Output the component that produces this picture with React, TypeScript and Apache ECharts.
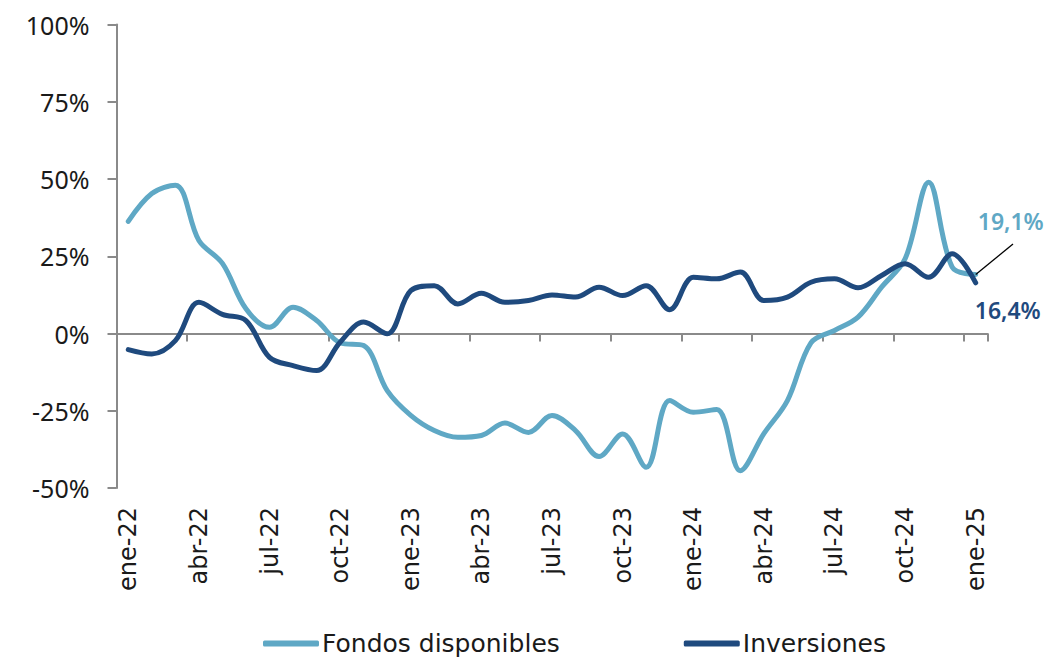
import React, { useEffect, useRef } from "react";
import * as echarts from "echarts";

const months = [
  "ene-22", "feb-22", "mar-22", "abr-22", "may-22", "jun-22", "jul-22", "ago-22", "sep-22", "oct-22", "nov-22", "dic-22",
  "ene-23", "feb-23", "mar-23", "abr-23", "may-23", "jun-23", "jul-23", "ago-23", "sep-23", "oct-23", "nov-23", "dic-23",
  "ene-24", "feb-24", "mar-24", "abr-24", "may-24", "jun-24", "jul-24", "ago-24", "sep-24", "oct-24", "nov-24", "dic-24",
  "ene-25",
];

const fondosDisponibles = [
  36.3, 45.3, 48.0, 30.1, 22.7, 8.0, 2.0, 8.5, 4.2, -3.0, -3.9, -18.5,
  -26.5, -31.4, -33.6, -33.0, -29.0, -32.0, -26.5, -31.4, -39.8, -32.5, -43.3, -21.7,
  -25.5, -24.6, -44.4, -32.4, -21.7, -3.0, 1.0, 5.3, 15.0, 24.2, 49.0, 21.5,
  19.1,
];

const inversiones = [
  -5.2, -6.6, -2.3, 10.1, 6.2, 4.2, -7.7, -10.4, -12.0, -2.8, 3.7, -0.1,
  13.9, 15.5, 9.6, 13.0, 10.1, 10.7, 12.5, 11.8, 15.0, 12.3, 15.5, 7.7,
  18.2, 17.7, 19.9, 10.7, 11.8, 16.6, 17.7, 14.8, 18.8, 22.6, 18.2, 25.8,
  16.4,
];

const yTicks = [-50, -25, 0, 25, 50, 75, 100];

const LIGHT = "#5fa8c5";
const DARK = "#1f4a7e";
const AXIS = "#8a8a8a";

const fmt = (v: number) => v.toFixed(1).replace(".", ",") + "%";

export default function App() {
  const ref = useRef<HTMLDivElement>(null);

  useEffect(() => {
    if (!ref.current) return;
    const chart = echarts.init(ref.current, null, { renderer: "svg" });
    const last = months.length - 1;

    const labelFont = {
      fontFamily: "Noto Sans",
      fontWeight: 600,
      fontSize: 23,
    };

    const fondosData = fondosDisponibles.map((v, i) =>
      i === last
        ? {
            value: v,
            label: {
              show: true,
              position: "top",
              distance: 4,
              offset: [35, -38],
              formatter: () => fmt(v),
              color: LIGHT,
              ...labelFont,
            },
          }
        : v
    );
    const invData = inversiones.map((v, i) =>
      i === last
        ? {
            value: v,
            label: {
              show: true,
              position: "bottom",
              distance: 5,
              offset: [32, 11],
              formatter: () => fmt(v),
              color: DARK,
              ...labelFont,
            },
          }
        : v
    );

    chart.setOption({
      animation: false,
      backgroundColor: "#ffffff",
      grid: { left: 116.5, right: 64.5, top: 24.6, bottom: 171, containLabel: false },
      legend: {
        left: 258,
        top: 626,
        itemWidth: 56,
        itemHeight: 6,
        itemGap: 124,
        icon: "roundRect",
        textStyle: { fontFamily: "DejaVu Sans", fontSize: 25, color: "#1a1a1a", padding: [0, 0, 0, -2] },
        data: ["Fondos disponibles", "Inversiones"],
      },
      xAxis: [
        {
          type: "category",
          data: months,
          boundaryGap: true,
          axisLine: { show: true, onZero: true, lineStyle: { color: AXIS, width: 2 } },
          axisTick: { show: true, interval: 2, length: 8, lineStyle: { color: AXIS, width: 2 } },
          axisLabel: { show: false },
          splitLine: { show: false },
        },
        {
          type: "category",
          data: months,
          position: "bottom",
          boundaryGap: true,
          axisLine: { show: false, onZero: false },
          axisTick: { show: false },
          axisLabel: {
            show: true,
            interval: 2,
            rotate: 90,
            margin: 19,
            fontFamily: "DejaVu Sans",
            fontSize: 24,
            color: "#1a1a1a",
          },
          splitLine: { show: false },
        },
      ],
      yAxis: {
        type: "value",
        min: yTicks[0],
        max: yTicks[yTicks.length - 1],
        interval: 25,
        axisLine: { show: true, lineStyle: { color: AXIS, width: 2 } },
        axisTick: { show: true, length: 9, lineStyle: { color: AXIS, width: 2 } },
        axisLabel: {
          margin: 27,
          fontFamily: "Noto Sans",
          fontSize: 25,
          color: "#1a1a1a",
          formatter: (v: number) => v + "%",
        },
        splitLine: { show: false },
      },
      series: [
        {
          name: "Fondos disponibles",
          type: "line",
          xAxisIndex: 0,
          data: fondosData,
          smooth: 0.35,
          showSymbol: true,
          symbol: "circle",
          symbolSize: 0,
          lineStyle: { color: LIGHT, width: 5, cap: "round" },
          itemStyle: { color: LIGHT },
          markLine: {
            silent: true,
            symbol: ["none", "none"],
            label: { show: false },
            lineStyle: { color: "#000", width: 1.3, type: "solid" },
            data: [[{ coord: [months[last], fondosDisponibles[last]] }, { x: 1013, y: 244 }]],
          },
          z: 2,
        },
        {
          name: "Inversiones",
          type: "line",
          xAxisIndex: 0,
          data: invData,
          smooth: 0.35,
          showSymbol: true,
          symbol: "circle",
          symbolSize: 0,
          lineStyle: { color: DARK, width: 5, cap: "round" },
          itemStyle: { color: DARK },
          z: 3,
        },
      ],
    });

    return () => chart.dispose();
  }, []);

  return (
    <div
      ref={ref}
      style={{ position: "fixed", left: 0, top: 0, width: 1052, height: 659, background: "#fff" }}
    />
  );
}
